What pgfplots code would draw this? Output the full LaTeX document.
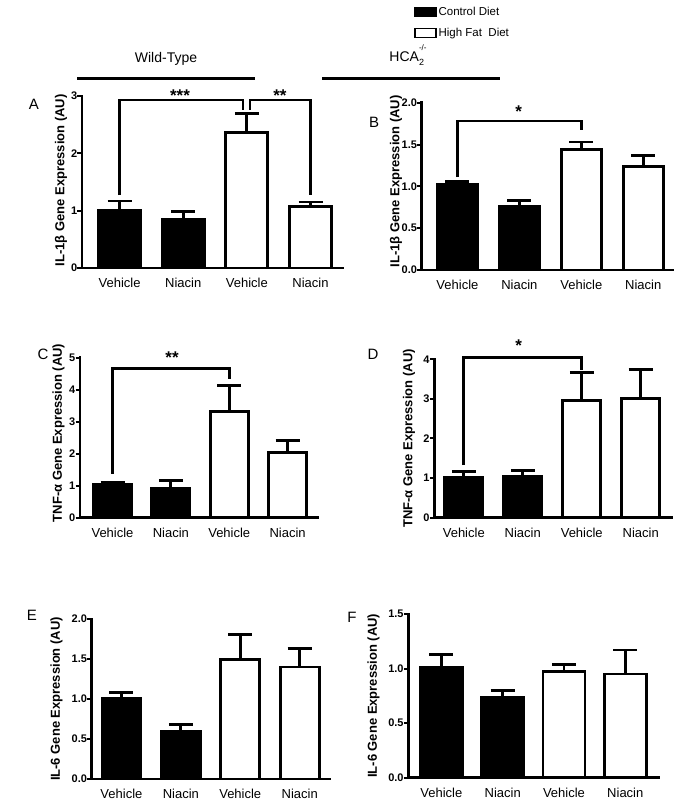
\documentclass[border=0pt]{standalone}
\usepackage{pgfplots}
\pgfplotsset{compat=1.18}
\usepackage{fontspec}
\setmainfont{Liberation Sans}

\pgfplotsset{
  panel/.style={
    scale only axis, clip=false, anchor=south west,
    axis x line*=bottom, axis y line*=left,
    axis line style={line width=2.6pt, line cap=rect, black},
    xtick={0,1,2,3}, xticklabels={Vehicle,Niacin,Vehicle,Niacin},
    major x tick style={draw=none},
    ymin=0,
    tick align=outside, major tick length=4.5pt,
    ytick style={line width=2pt, black},
    /pgf/number format/assume math mode=true,
    yticklabel style={font=\bfseries\fontsize{11}{11}\selectfont, inner sep=0.5pt, xshift=0.5pt},
    xticklabel style={font=\fontsize{13}{13}\selectfont, yshift=-2pt},
    ylabel style={font=\bfseries\fontsize{13}{13}\selectfont, anchor=center},
  },
  dec/.style={yticklabel style={/pgf/number format/fixed, /pgf/number format/fixed zerofill, /pgf/number format/precision=1}},
  errs/.style={
     error bars/y dir=plus, error bars/y explicit,
     error bars/error bar style={line width=2.8pt, black},
     error bars/error mark options={rotate=90, mark size=12pt, line width=2.8pt, black}},
  ctrl/.style={ybar, bar shift=0pt, fill=black, draw=black, line width=2.8pt,
     legend image code/.code={\draw[fill=black, draw=black, line width=1.5pt] (0pt,-4.5pt) rectangle (21pt,4.5pt);},
     errs},
  hfd/.style={ybar, bar shift=0pt, fill=white, draw=black, line width=2.8pt,
     legend image code/.code={\draw[fill=white, draw=black, line width=1.5pt] (0pt,-4.5pt) rectangle (21pt,4.5pt);},
     errs},
}
\tikzset{br/.style={line width=2.8pt, black, line join=miter},
  stars/.style={font=\bfseries\fontsize{17}{17}\selectfont, inner sep=0pt, anchor=north},
  letter/.style={font=\fontsize{15}{15}\selectfont, inner sep=0pt}}

\begin{document}
\begin{tikzpicture}
\useasboundingbox (0pt,0pt) rectangle (680pt,801pt);

% Titles
\node[font=\fontsize{14}{14}\selectfont, inner sep=0pt] at (166pt,742.5pt) {Wild-Type};
\node[font=\fontsize{14}{14}\selectfont, inner sep=0pt, anchor=base] at (408pt,739pt)
  {HCA\rlap{\raisebox{-4pt}{\fontsize{9}{9}\selectfont 2}}\raisebox{11pt}{\fontsize{8}{8}\selectfont -/-}};
\draw[line width=3pt] (77pt,722.3pt) -- (255pt,722.3pt);
\draw[line width=3pt] (322pt,722.3pt) -- (500pt,722.3pt);

% Panel letters
\node[letter] at (34pt,697pt) {A};
\node[letter] at (374pt,679pt) {B};
\node[letter] at (43pt,447pt) {C};
\node[letter] at (373pt,447pt) {D};
\node[letter] at (32pt,186pt) {E};
\node[letter] at (352pt,184pt) {F};

% A
\begin{axis}[panel, at={(82pt,533pt)}, width=261pt, height=172pt,
  xmin=-0.59, xmax=3.51, ymax=3, ytick={0,1,2,3},
  ylabel={IL-1β Gene Expression (AU)},
  ylabel style={at={(axis description cs:-0.08,0.51)}}]
\addplot[ctrl, bar width=42pt] coordinates {(0,1.01) +- (0,0.16) (1,0.85) +- (0,0.14)};
\addplot[hfd, bar width=42pt] coordinates {(2,2.36) +- (0,0.34) (3,1.07) +- (0,0.08)};
\draw[br] (axis cs:0,1.27) |- (axis cs:1.94,2.93) -- (axis cs:1.94,2.76);
\draw[br] (axis cs:2.05,2.76) |- (axis cs:3,2.93) -- (axis cs:3,1.27);
\node[stars] at (axis cs:0.95,3.12) {***};
\node[stars] at (axis cs:2.52,3.12) {**};
\end{axis}

% B
\begin{axis}[panel, dec, at={(421.7pt,531pt)}, width=251.3pt, height=167.3pt,
  xmin=-0.577, xmax=3.48, ymax=2, ytick={0,0.5,1,1.5,2},
  ylabel={IL-1β Gene Expression (AU)},
  ylabel style={at={(axis description cs:-0.102,0.53)}},
  legend style={at={(axis description cs:-0.031,1.584)}, anchor=north west,
    draw=none, fill=none, inner sep=0pt, row sep=7pt,
    font=\fontsize{11.5}{12}\selectfont},
  legend cell align=left]
\addplot[ctrl, bar width=40pt] coordinates {(0,1.02) +- (0,0.04) (1,0.76) +- (0,0.07)};
\addplot[hfd, bar width=40pt] coordinates {(2,1.44) +- (0,0.09) (3,1.24) +- (0,0.13)};
\legend{Control Diet, High Fat\ \ Diet}
\draw[br] (axis cs:0,1.11) |- (axis cs:2,1.78) -- (axis cs:2,1.67);
\node[stars] at (axis cs:0.99,1.96) {*};
\end{axis}

% C
\begin{axis}[panel, at={(80pt,283.3pt)}, width=238pt, height=160pt,
  xmin=-0.557, xmax=3.52, ymax=5, ytick={0,1,2,3,4,5},
  ylabel={TNF-α Gene Expression (AU)},
  ylabel style={at={(axis description cs:-0.09,0.53)}}]
\addplot[ctrl, bar width=38pt] coordinates {(0,1.05) +- (0,0.06) (1,0.92) +- (0,0.23)};
\addplot[hfd, bar width=38pt] coordinates {(2,3.33) +- (0,0.80) (3,2.04) +- (0,0.36)};
\draw[br] (axis cs:0,1.37) |- (axis cs:2,4.67) -- (axis cs:2,4.32);
\node[stars] at (axis cs:1.02,5.18) {**};
\end{axis}

% D
\begin{axis}[panel, at={(434.3pt,283.3pt)}, width=237.7pt, height=158.4pt,
  xmin=-0.50, xmax=3.53, ymax=4, ytick={0,1,2,3,4},
  ylabel={TNF-α Gene Expression (AU)},
  ylabel style={at={(axis description cs:-0.106,0.5)}}]
\addplot[ctrl, bar width=38pt] coordinates {(0,1.02) +- (0,0.14) (1,1.05) +- (0,0.14)};
\addplot[hfd, bar width=38pt] coordinates {(2,2.96) +- (0,0.71) (3,3.00) +- (0,0.75)};
\draw[br] (axis cs:0,1.33) |- (axis cs:2,4.04) -- (axis cs:2,3.73);
\node[stars] at (axis cs:0.93,4.49) {*};
\end{axis}

% E
\begin{axis}[panel, dec, at={(91.7pt,22pt)}, width=238.3pt, height=160pt,
  xmin=-0.50, xmax=3.51, ymax=2, ytick={0,0.5,1,1.5,2},
  ylabel={IL-6 Gene Expression (AU)},
  ylabel style={at={(axis description cs:-0.148,0.5)}}]
\addplot[ctrl, bar width=39pt] coordinates {(0,1.01) +- (0,0.07) (1,0.59) +- (0,0.09)};
\addplot[hfd, bar width=39pt] coordinates {(2,1.49) +- (0,0.32) (3,1.40) +- (0,0.23)};
\end{axis}

% F
\begin{axis}[panel, dec, at={(408.3pt,23.3pt)}, width=250.7pt, height=163.7pt,
  xmin=-0.54, xmax=3.55, ymax=1.5, ytick={0,0.5,1,1.5},
  ylabel={IL-6 Gene Expression (AU)},
  ylabel style={at={(axis description cs:-0.139,0.5)}}]
\addplot[ctrl, bar width=42pt] coordinates {(0,1.01) +- (0,0.12) (1,0.74) +- (0,0.06)};
\addplot[hfd, bar width=42pt] coordinates {(2,0.97) +- (0,0.07) (3,0.95) +- (0,0.22)};
\end{axis}
\end{tikzpicture}
\end{document}
